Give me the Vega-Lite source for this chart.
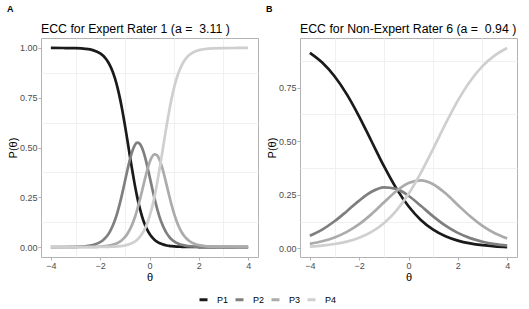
{
"$schema": "https://vega.github.io/schema/vega-lite/v6.json",
"padding": {"left": 6, "top": 5, "right": 3, "bottom": 3},
"config": {
  "font": "Liberation Sans",
  "view": {"stroke": "#b3b3b3", "strokeWidth": 1},
  "axis": {"domain": false, "gridColor": "#dedede", "gridWidth": 1, "tickColor": "#b3b3b3", "tickSize": 3, "labelFontSize": 9, "labelColor": "#4d4d4d", "labelPadding": 1, "titleFontSize": 11, "titleFontWeight": "normal", "titleColor": "#000000", "titlePadding": 1},
  "legend": {"direction": "horizontal", "title": null, "symbolType": "stroke", "symbolStrokeWidth": 3, "symbolSize": 64, "labelFontSize": 9, "labelColor": "#000000", "columnPadding": 0, "labelOffset": 8}
},
"data": {"values": [
{"g":"A","k":"P1","t":-4,"p":1},{"g":"A","k":"P1","t":-3.5,"p":0.9997},{"g":"A","k":"P1","t":-3,"p":0.9988},{"g":"A","k":"P1","t":-2.6,"p":0.9957},{"g":"A","k":"P1","t":-2.3,"p":0.9891},{"g":"A","k":"P1","t":-2,"p":0.9728},{"g":"A","k":"P1","t":-1.9,"p":0.9632},{"g":"A","k":"P1","t":-1.8,"p":0.9505},{"g":"A","k":"P1","t":-1.7,"p":0.9336},{"g":"A","k":"P1","t":-1.6,"p":0.9116},{"g":"A","k":"P1","t":-1.5,"p":0.8831},{"g":"A","k":"P1","t":-1.4,"p":0.8469},{"g":"A","k":"P1","t":-1.3,"p":0.8021},{"g":"A","k":"P1","t":-1.2,"p":0.7481},{"g":"A","k":"P1","t":-1.1,"p":0.6852},{"g":"A","k":"P1","t":-1,"p":0.6146},{"g":"A","k":"P1","t":-0.9,"p":0.5388},{"g":"A","k":"P1","t":-0.8,"p":0.4612},{"g":"A","k":"P1","t":-0.7,"p":0.3854},{"g":"A","k":"P1","t":-0.6,"p":0.3148},{"g":"A","k":"P1","t":-0.5,"p":0.2519},{"g":"A","k":"P1","t":-0.4,"p":0.1979},{"g":"A","k":"P1","t":-0.3,"p":0.1531},{"g":"A","k":"P1","t":-0.2,"p":0.1169},{"g":"A","k":"P1","t":-0.1,"p":0.0884},{"g":"A","k":"P1","t":0,"p":0.0664},{"g":"A","k":"P1","t":0.1,"p":0.0495},{"g":"A","k":"P1","t":0.2,"p":0.0368},{"g":"A","k":"P1","t":0.3,"p":0.0272},{"g":"A","k":"P1","t":0.4,"p":0.0201},{"g":"A","k":"P1","t":0.5,"p":0.0148},{"g":"A","k":"P1","t":0.6,"p":0.0109},{"g":"A","k":"P1","t":0.7,"p":0.008},{"g":"A","k":"P1","t":0.8,"p":0.0059},{"g":"A","k":"P1","t":0.9,"p":0.0043},{"g":"A","k":"P1","t":1,"p":0.0032},{"g":"A","k":"P1","t":1.1,"p":0.0023},{"g":"A","k":"P1","t":1.2,"p":0.0017},{"g":"A","k":"P1","t":1.3,"p":0.0013},{"g":"A","k":"P1","t":1.4,"p":0.0009},{"g":"A","k":"P1","t":1.5,"p":0.0007},{"g":"A","k":"P1","t":1.6,"p":0.0005},{"g":"A","k":"P1","t":1.7,"p":0.0004},{"g":"A","k":"P1","t":1.8,"p":0.0003},{"g":"A","k":"P1","t":1.9,"p":0.0002},{"g":"A","k":"P1","t":2,"p":0.0001},{"g":"A","k":"P1","t":2.3,"p":0.0001},{"g":"A","k":"P1","t":2.6,"p":0},{"g":"A","k":"P1","t":3,"p":0},{"g":"A","k":"P1","t":3.5,"p":0},{"g":"A","k":"P1","t":4,"p":0},
{"g":"A","k":"P2","t":-4,"p":0.0001},{"g":"A","k":"P2","t":-3.5,"p":0.0002},{"g":"A","k":"P2","t":-3,"p":0.0011},{"g":"A","k":"P2","t":-2.6,"p":0.0039},{"g":"A","k":"P2","t":-2.3,"p":0.0098},{"g":"A","k":"P2","t":-2,"p":0.0245},{"g":"A","k":"P2","t":-1.9,"p":0.0331},{"g":"A","k":"P2","t":-1.8,"p":0.0445},{"g":"A","k":"P2","t":-1.7,"p":0.0595},{"g":"A","k":"P2","t":-1.6,"p":0.0791},{"g":"A","k":"P2","t":-1.5,"p":0.1043},{"g":"A","k":"P2","t":-1.4,"p":0.1359},{"g":"A","k":"P2","t":-1.3,"p":0.1745},{"g":"A","k":"P2","t":-1.2,"p":0.2203},{"g":"A","k":"P2","t":-1.1,"p":0.2722},{"g":"A","k":"P2","t":-1,"p":0.3281},{"g":"A","k":"P2","t":-0.9,"p":0.3845},{"g":"A","k":"P2","t":-0.8,"p":0.437},{"g":"A","k":"P2","t":-0.7,"p":0.4806},{"g":"A","k":"P2","t":-0.6,"p":0.5108},{"g":"A","k":"P2","t":-0.5,"p":0.5244},{"g":"A","k":"P2","t":-0.4,"p":0.5198},{"g":"A","k":"P2","t":-0.3,"p":0.4976},{"g":"A","k":"P2","t":-0.2,"p":0.4602},{"g":"A","k":"P2","t":-0.1,"p":0.4116},{"g":"A","k":"P2","t":0,"p":0.3565},{"g":"A","k":"P2","t":0.1,"p":0.2998},{"g":"A","k":"P2","t":0.2,"p":0.2455},{"g":"A","k":"P2","t":0.3,"p":0.1965},{"g":"A","k":"P2","t":0.4,"p":0.1543},{"g":"A","k":"P2","t":0.5,"p":0.1192},{"g":"A","k":"P2","t":0.6,"p":0.0909},{"g":"A","k":"P2","t":0.7,"p":0.0687},{"g":"A","k":"P2","t":0.8,"p":0.0515},{"g":"A","k":"P2","t":0.9,"p":0.0384},{"g":"A","k":"P2","t":1,"p":0.0285},{"g":"A","k":"P2","t":1.1,"p":0.0211},{"g":"A","k":"P2","t":1.2,"p":0.0155},{"g":"A","k":"P2","t":1.3,"p":0.0114},{"g":"A","k":"P2","t":1.4,"p":0.0084},{"g":"A","k":"P2","t":1.5,"p":0.0062},{"g":"A","k":"P2","t":1.6,"p":0.0045},{"g":"A","k":"P2","t":1.7,"p":0.0033},{"g":"A","k":"P2","t":1.8,"p":0.0025},{"g":"A","k":"P2","t":1.9,"p":0.0018},{"g":"A","k":"P2","t":2,"p":0.0013},{"g":"A","k":"P2","t":2.3,"p":0.0005},{"g":"A","k":"P2","t":2.6,"p":0.0002},{"g":"A","k":"P2","t":3,"p":0.0001},{"g":"A","k":"P2","t":3.5,"p":0},{"g":"A","k":"P2","t":4,"p":0},
{"g":"A","k":"P3","t":-4,"p":0},{"g":"A","k":"P3","t":-3.5,"p":0},{"g":"A","k":"P3","t":-3,"p":0.0001},{"g":"A","k":"P3","t":-2.6,"p":0.0004},{"g":"A","k":"P3","t":-2.3,"p":0.0009},{"g":"A","k":"P3","t":-2,"p":0.0024},{"g":"A","k":"P3","t":-1.9,"p":0.0032},{"g":"A","k":"P3","t":-1.8,"p":0.0044},{"g":"A","k":"P3","t":-1.7,"p":0.0059},{"g":"A","k":"P3","t":-1.6,"p":0.0081},{"g":"A","k":"P3","t":-1.5,"p":0.011},{"g":"A","k":"P3","t":-1.4,"p":0.0149},{"g":"A","k":"P3","t":-1.3,"p":0.0202},{"g":"A","k":"P3","t":-1.2,"p":0.0273},{"g":"A","k":"P3","t":-1.1,"p":0.0368},{"g":"A","k":"P3","t":-1,"p":0.0494},{"g":"A","k":"P3","t":-0.9,"p":0.0658},{"g":"A","k":"P3","t":-0.8,"p":0.087},{"g":"A","k":"P3","t":-0.7,"p":0.1139},{"g":"A","k":"P3","t":-0.6,"p":0.1471},{"g":"A","k":"P3","t":-0.5,"p":0.187},{"g":"A","k":"P3","t":-0.4,"p":0.2328},{"g":"A","k":"P3","t":-0.3,"p":0.2829},{"g":"A","k":"P3","t":-0.2,"p":0.3344},{"g":"A","k":"P3","t":-0.1,"p":0.3831},{"g":"A","k":"P3","t":0,"p":0.4241},{"g":"A","k":"P3","t":0.1,"p":0.4528},{"g":"A","k":"P3","t":0.2,"p":0.4658},{"g":"A","k":"P3","t":0.3,"p":0.4614},{"g":"A","k":"P3","t":0.4,"p":0.4402},{"g":"A","k":"P3","t":0.5,"p":0.4048},{"g":"A","k":"P3","t":0.6,"p":0.3594},{"g":"A","k":"P3","t":0.7,"p":0.3088},{"g":"A","k":"P3","t":0.8,"p":0.2575},{"g":"A","k":"P3","t":0.9,"p":0.2092},{"g":"A","k":"P3","t":1,"p":0.1662},{"g":"A","k":"P3","t":1.1,"p":0.1297},{"g":"A","k":"P3","t":1.2,"p":0.0997},{"g":"A","k":"P3","t":1.3,"p":0.0758},{"g":"A","k":"P3","t":1.4,"p":0.057},{"g":"A","k":"P3","t":1.5,"p":0.0427},{"g":"A","k":"P3","t":1.6,"p":0.0317},{"g":"A","k":"P3","t":1.7,"p":0.0235},{"g":"A","k":"P3","t":1.8,"p":0.0174},{"g":"A","k":"P3","t":1.9,"p":0.0128},{"g":"A","k":"P3","t":2,"p":0.0094},{"g":"A","k":"P3","t":2.3,"p":0.0037},{"g":"A","k":"P3","t":2.6,"p":0.0015},{"g":"A","k":"P3","t":3,"p":0.0004},{"g":"A","k":"P3","t":3.5,"p":0.0001},{"g":"A","k":"P3","t":4,"p":0},
{"g":"A","k":"P4","t":-4,"p":0},{"g":"A","k":"P4","t":-3.5,"p":0},{"g":"A","k":"P4","t":-3,"p":0},{"g":"A","k":"P4","t":-2.6,"p":0.0001},{"g":"A","k":"P4","t":-2.3,"p":0.0001},{"g":"A","k":"P4","t":-2,"p":0.0004},{"g":"A","k":"P4","t":-1.9,"p":0.0005},{"g":"A","k":"P4","t":-1.8,"p":0.0007},{"g":"A","k":"P4","t":-1.7,"p":0.0009},{"g":"A","k":"P4","t":-1.6,"p":0.0013},{"g":"A","k":"P4","t":-1.5,"p":0.0017},{"g":"A","k":"P4","t":-1.4,"p":0.0023},{"g":"A","k":"P4","t":-1.3,"p":0.0032},{"g":"A","k":"P4","t":-1.2,"p":0.0043},{"g":"A","k":"P4","t":-1.1,"p":0.0059},{"g":"A","k":"P4","t":-1,"p":0.008},{"g":"A","k":"P4","t":-0.9,"p":0.0109},{"g":"A","k":"P4","t":-0.8,"p":0.0148},{"g":"A","k":"P4","t":-0.7,"p":0.0201},{"g":"A","k":"P4","t":-0.6,"p":0.0272},{"g":"A","k":"P4","t":-0.5,"p":0.0368},{"g":"A","k":"P4","t":-0.4,"p":0.0495},{"g":"A","k":"P4","t":-0.3,"p":0.0664},{"g":"A","k":"P4","t":-0.2,"p":0.0884},{"g":"A","k":"P4","t":-0.1,"p":0.1169},{"g":"A","k":"P4","t":0,"p":0.1531},{"g":"A","k":"P4","t":0.1,"p":0.1979},{"g":"A","k":"P4","t":0.2,"p":0.2519},{"g":"A","k":"P4","t":0.3,"p":0.3148},{"g":"A","k":"P4","t":0.4,"p":0.3854},{"g":"A","k":"P4","t":0.5,"p":0.4612},{"g":"A","k":"P4","t":0.6,"p":0.5388},{"g":"A","k":"P4","t":0.7,"p":0.6146},{"g":"A","k":"P4","t":0.8,"p":0.6852},{"g":"A","k":"P4","t":0.9,"p":0.7481},{"g":"A","k":"P4","t":1,"p":0.8021},{"g":"A","k":"P4","t":1.1,"p":0.8469},{"g":"A","k":"P4","t":1.2,"p":0.8831},{"g":"A","k":"P4","t":1.3,"p":0.9116},{"g":"A","k":"P4","t":1.4,"p":0.9336},{"g":"A","k":"P4","t":1.5,"p":0.9505},{"g":"A","k":"P4","t":1.6,"p":0.9632},{"g":"A","k":"P4","t":1.7,"p":0.9728},{"g":"A","k":"P4","t":1.8,"p":0.9799},{"g":"A","k":"P4","t":1.9,"p":0.9852},{"g":"A","k":"P4","t":2,"p":0.9891},{"g":"A","k":"P4","t":2.3,"p":0.9957},{"g":"A","k":"P4","t":2.6,"p":0.9983},{"g":"A","k":"P4","t":3,"p":0.9995},{"g":"A","k":"P4","t":3.5,"p":0.9999},{"g":"A","k":"P4","t":4,"p":1},
{"g":"B","k":"P1","t":-4,"p":0.9129},{"g":"B","k":"P1","t":-3.5,"p":0.8676},{"g":"B","k":"P1","t":-3,"p":0.8038},{"g":"B","k":"P1","t":-2.5,"p":0.7191},{"g":"B","k":"P1","t":-2,"p":0.6154},{"g":"B","k":"P1","t":-1.5,"p":0.5},{"g":"B","k":"P1","t":-1,"p":0.3846},{"g":"B","k":"P1","t":-0.5,"p":0.2809},{"g":"B","k":"P1","t":0,"p":0.1962},{"g":"B","k":"P1","t":0.5,"p":0.1324},{"g":"B","k":"P1","t":1,"p":0.0871},{"g":"B","k":"P1","t":1.5,"p":0.0563},{"g":"B","k":"P1","t":2,"p":0.0359},{"g":"B","k":"P1","t":2.5,"p":0.0228},{"g":"B","k":"P1","t":3,"p":0.0144},{"g":"B","k":"P1","t":3.5,"p":0.009},{"g":"B","k":"P1","t":4,"p":0.0057},
{"g":"B","k":"P2","t":-4,"p":0.0585},{"g":"B","k":"P2","t":-3.5,"p":0.0874},{"g":"B","k":"P2","t":-3,"p":0.1261},{"g":"B","k":"P2","t":-2.5,"p":0.1733},{"g":"B","k":"P2","t":-2,"p":0.2228},{"g":"B","k":"P2","t":-1.5,"p":0.2641},{"g":"B","k":"P2","t":-1,"p":0.2847},{"g":"B","k":"P2","t":-0.5,"p":0.2776},{"g":"B","k":"P2","t":0,"p":0.2453},{"g":"B","k":"P2","t":0.5,"p":0.1983},{"g":"B","k":"P2","t":1,"p":0.1489},{"g":"B","k":"P2","t":1.5,"p":0.1055},{"g":"B","k":"P2","t":2,"p":0.0717},{"g":"B","k":"P2","t":2.5,"p":0.0474},{"g":"B","k":"P2","t":3,"p":0.0307},{"g":"B","k":"P2","t":3.5,"p":0.0196},{"g":"B","k":"P2","t":4,"p":0.0124},
{"g":"B","k":"P3","t":-4,"p":0.0207},{"g":"B","k":"P3","t":-3.5,"p":0.0325},{"g":"B","k":"P3","t":-3,"p":0.0503},{"g":"B","k":"P3","t":-2.5,"p":0.0763},{"g":"B","k":"P3","t":-2,"p":0.1126},{"g":"B","k":"P3","t":-1.5,"p":0.1595},{"g":"B","k":"P3","t":-1,"p":0.2137},{"g":"B","k":"P3","t":-0.5,"p":0.2666},{"g":"B","k":"P3","t":0,"p":0.3052},{"g":"B","k":"P3","t":0.5,"p":0.3175},{"g":"B","k":"P3","t":1,"p":0.2992},{"g":"B","k":"P3","t":1.5,"p":0.2567},{"g":"B","k":"P3","t":2,"p":0.2026},{"g":"B","k":"P3","t":2.5,"p":0.1493},{"g":"B","k":"P3","t":3,"p":0.1044},{"g":"B","k":"P3","t":3.5,"p":0.0703},{"g":"B","k":"P3","t":4,"p":0.0462},
{"g":"B","k":"P4","t":-4,"p":0.0079},{"g":"B","k":"P4","t":-3.5,"p":0.0125},{"g":"B","k":"P4","t":-3,"p":0.0198},{"g":"B","k":"P4","t":-2.5,"p":0.0313},{"g":"B","k":"P4","t":-2,"p":0.0492},{"g":"B","k":"P4","t":-1.5,"p":0.0765},{"g":"B","k":"P4","t":-1,"p":0.117},{"g":"B","k":"P4","t":-0.5,"p":0.1749},{"g":"B","k":"P4","t":0,"p":0.2533},{"g":"B","k":"P4","t":0.5,"p":0.3518},{"g":"B","k":"P4","t":1,"p":0.4648},{"g":"B","k":"P4","t":1.5,"p":0.5815},{"g":"B","k":"P4","t":2,"p":0.6898},{"g":"B","k":"P4","t":2.5,"p":0.7806},{"g":"B","k":"P4","t":3,"p":0.8506},{"g":"B","k":"P4","t":3.5,"p":0.9011},{"g":"B","k":"P4","t":4,"p":0.9358}
]},
"spacing": 6,
"resolve": {"scale": {"color": "shared"}},
"hconcat": [
 {
  "title": {"text": "A", "anchor": "start", "frame": "bounds", "fontSize": 9, "fontWeight": "bold", "color": "#000000", "offset": 8},
  "vconcat": [
   {
    "transform": [{"filter": "datum.g === 'A'"}],
    "title": {"text": "ECC for Expert Rater 1 (a = \u00a03.11 )", "anchor": "start", "frame": "group", "fontSize": 12.3, "fontWeight": "normal", "color": "#000000", "offset": 3},
    "width": 217, "height": 219,
    "layer": [
     {
      "mark": {"type": "line", "opacity": 0},
      "encoding": {
       "x": {"field": "t", "type": "quantitative", "scale": {"domain": [-4.4, 4.4], "nice": false, "zero": false}, "axis": {"orient": "bottom", "values": [-3, -1, 1, 3], "labels": false, "ticks": false, "title": null, "gridColor": "#f0f0f0"}},
       "y": {"field": "p", "type": "quantitative", "scale": {"domain": [-0.05, 1.05], "nice": false, "zero": false}, "axis": {"orient": "left", "values": [0.125, 0.375, 0.625, 0.875], "labels": false, "ticks": false, "title": null, "gridColor": "#f0f0f0"}}
      }
     },
     {
      "mark": {"type": "line", "strokeWidth": 2.7, "interpolate": "monotone"},
      "encoding": {
       "x": {"field": "t", "type": "quantitative", "axis": {"orient": "bottom", "values": [-4, -2, 0, 2, 4], "title": "θ"}},
       "y": {"field": "p", "type": "quantitative", "axis": {"orient": "left", "values": [0, 0.25, 0.5, 0.75, 1], "format": ".2f", "title": "P(θ)"}},
       "color": {"field": "k", "type": "nominal", "scale": {"domain": ["P1", "P2", "P3", "P4"], "range": ["#1a1a1a", "#7f7f7f", "#ababab", "#cfcfcf"]}, "legend": {"orient": "none", "legendX": 157, "legendY": 256, "direction": "horizontal"}}
      }
     }
    ],
    "resolve": {"axis": {"x": "independent", "y": "independent"}}
   }
  ]
 },
 {
  "title": {"text": "B", "anchor": "start", "frame": "bounds", "fontSize": 9, "fontWeight": "bold", "color": "#000000", "offset": 8},
  "vconcat": [
   {
    "transform": [{"filter": "datum.g === 'B'"}],
    "title": {"text": "ECC for Non-Expert Rater 6 (a = \u00a00.94 )", "anchor": "start", "frame": "group", "fontSize": 12.3, "fontWeight": "normal", "color": "#000000", "offset": 3},
    "width": 217, "height": 219,
    "layer": [
     {
      "mark": {"type": "line", "opacity": 0},
      "encoding": {
       "x": {"field": "t", "type": "quantitative", "scale": {"domain": [-4.4, 4.4], "nice": false, "zero": false}, "axis": {"orient": "bottom", "values": [-3, -1, 1, 3], "labels": false, "ticks": false, "title": null, "gridColor": "#f0f0f0"}},
       "y": {"field": "p", "type": "quantitative", "scale": {"domain": [-0.0408, 0.9823], "nice": false, "zero": false}, "axis": {"orient": "left", "values": [0.125, 0.375, 0.625, 0.875], "labels": false, "ticks": false, "title": null, "gridColor": "#f0f0f0"}}
      }
     },
     {
      "mark": {"type": "line", "strokeWidth": 2.7, "interpolate": "monotone"},
      "encoding": {
       "x": {"field": "t", "type": "quantitative", "axis": {"orient": "bottom", "values": [-4, -2, 0, 2, 4], "title": "θ"}},
       "y": {"field": "p", "type": "quantitative", "axis": {"orient": "left", "values": [0, 0.25, 0.5, 0.75], "format": ".2f", "title": "P(θ)"}},
       "color": {"field": "k", "type": "nominal", "scale": {"domain": ["P1", "P2", "P3", "P4"], "range": ["#1a1a1a", "#7f7f7f", "#ababab", "#cfcfcf"]}, "legend": {"orient": "none", "legendX": 157, "legendY": 256, "direction": "horizontal"}}
      }
     }
    ],
    "resolve": {"axis": {"x": "independent", "y": "independent"}}
   }
  ]
 }
]
}
